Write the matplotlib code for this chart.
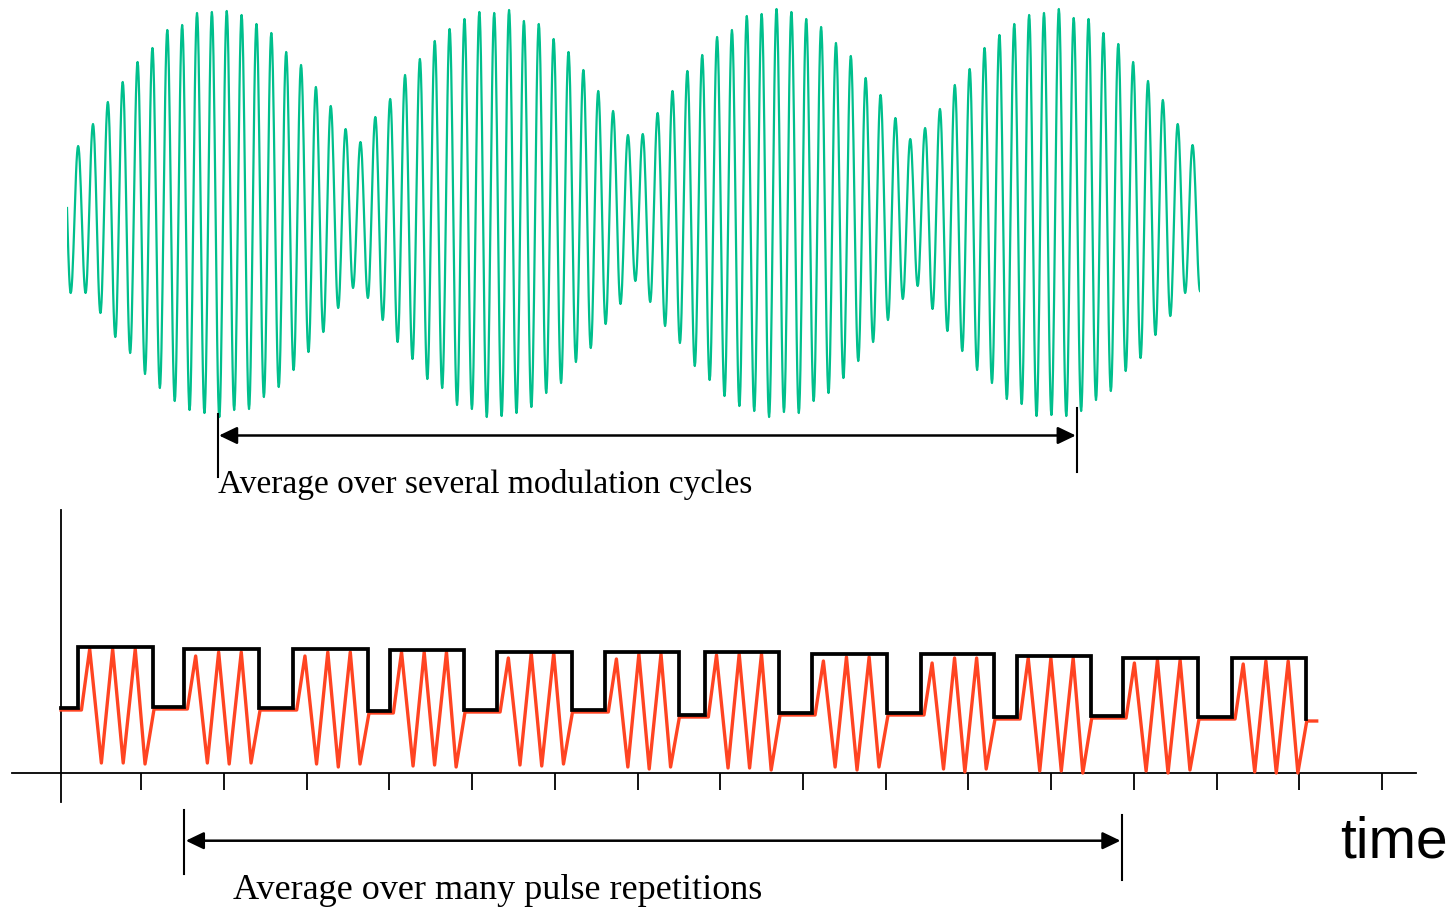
import numpy as np
import matplotlib
matplotlib.use("Agg")
import matplotlib.pyplot as plt

# ---------------- data ----------------
# Top: amplitude-modulated carrier, signal extremes (arbitrary units, 0 = centre)
carrier_peaks = [65, 87, 109, 129, 149, 163, 181, 186, 198, 199, 200, 196, 187, 178, 159, 146,
                 124, 105, 82, 69, 94, 112, 136, 152, 170, 182, 192, 199, 198, 201, 190, 187,
                 172, 159, 141, 120, 100, 76, 77, 98, 120, 140, 156, 174, 181, 195, 197, 202,
                 199, 192, 184, 168, 155, 133, 116, 93, 72, 83, 102, 126, 142, 163, 176, 187,
                 196, 198, 202, 193, 192, 178, 167, 149, 130, 111, 87, 66]
carrier_troughs = [-82, -82, -102, -126, -142, -163, -177, -190, -199, -202, -206, -199, -198,
                   -186, -176, -159, -141, -121, -97, -77, -87, -109, -131, -148, -168, -177,
                   -194, -198, -206, -205, -202, -196, -182, -172, -151, -137, -113, -93, -70,
                   -91, -115, -132, -155, -169, -185, -195, -200, -206, -201, -202, -190, -182,
                   -167, -150, -131, -109, -88, -75, -98, -120, -140, -159, -172, -188, -193,
                   -205, -204, -205, -200, -189, -180, -160, -147, -124, -105, -82]
carrier_start_value = 3
carrier_end_value = -80

# Bottom: pulse train (time in tick units, level in arbitrary units, 0 = time axis)
time_start = 0.03
pulse_start = [0.235, 1.516, 2.838, 4.007, 5.297, 6.606, 7.815, 9.105, 10.423, 11.584,
               12.865, 14.183]
pulse_end = [1.145, 2.427, 3.744, 4.905, 6.204, 7.497, 8.714, 10.019, 11.313, 12.482,
             13.779, 15.082]
pulse_high = [126, 124, 124, 123, 121, 121, 121, 119, 119, 117, 115, 115]
level_before = 65
level_after = [66, 65, 62, 63, 63, 58, 60, 60, 56, 57, 56, 54]

# red oscillation inside each pulse: three peaks and three troughs per pulse
red_peaks = [[124, 124, 124], [117, 121, 121], [117, 121, 121], [121, 121, 121],
             [115, 120, 120], [114, 119, 119], [118, 119, 119], [112, 116, 116],
             [110, 115, 115], [115, 115, 115], [110, 113, 113], [109, 112, 112]]
red_troughs = [[10, 10, 9], [10, 9, 10], [9, 6, 9], [7, 8, 6], [8, 7, 9], [6, 4, 6],
               [5, 5, 3], [6, 3, 6], [4, 1, 4], [2, 2, 0], [2, 0, 3], [1, 0, 0]]
red_tail_end = 15.211

time_ticks = list(range(1, 17))

label_top = "Average over several modulation cycles"
label_bottom = "Average over many pulse repetitions"
label_time = "time"

# ---------------- style ----------------
W, H = 1455, 915
TEAL = "#00BF8C"
RED = "#FF4422"
SERIF = ["Liberation Serif", "DejaVu Serif"]
SANS = ["Liberation Sans", "DejaVu Sans"]

fig = plt.figure(figsize=(W / 100, H / 100), dpi=100)


def px_axes(x0, y0, x1, y1):
    return fig.add_axes([x0 / W, 1 - y1 / H, (x1 - x0) / W, (y1 - y0) / H])


# ---------------- top: modulated carrier ----------------
ax_top = px_axes(67, 0, 1200, 430)
n = len(carrier_peaks)
t_ext = [0.0]
v_ext = [carrier_start_value]
for k in range(n):
    t_ext += [k + 0.25, k + 0.75]
    v_ext += [carrier_troughs[k], carrier_peaks[k]]
t_ext.append(n + 0.25)
v_ext.append(carrier_end_value)

ts, vs = [], []
for i in range(len(t_ext) - 1):
    s = np.linspace(0, 1, 14, endpoint=False)
    if i == 0:
        shape = np.sin(np.pi / 2 * s)
    else:
        shape = (1 - np.cos(np.pi * s)) / 2
    ts.append(t_ext[i] + (t_ext[i + 1] - t_ext[i]) * s)
    vs.append(v_ext[i] + (v_ext[i + 1] - v_ext[i]) * shape)
ts.append([t_ext[-1]])
vs.append([v_ext[-1]])
ax_top.plot(np.concatenate(ts), np.concatenate(vs), color=TEAL, lw=1.6)
ax_top.set_xlim(0, n + 0.25)
ax_top.set_ylim(-219, 211)
ax_top.axis("off")

# ---------------- bottom: pulse train ----------------
ax_bot = px_axes(12, 510, 1416, 802)
px_per_unit = 82.71
origin_px = 58.6
ax_bot.set_xlim((12 - origin_px) / px_per_unit, (1416 - origin_px) / px_per_unit)
ax_bot.set_ylim(-29, 263)
for side in ("top", "right"):
    ax_bot.spines[side].set_visible(False)
ax_bot.spines["left"].set_position(("data", time_start))
ax_bot.spines["bottom"].set_position(("data", 0))
ax_bot.spines["left"].set_linewidth(1.3)
ax_bot.spines["bottom"].set_linewidth(1.3)
ax_bot.set_xticks(time_ticks)
ax_bot.set_xticklabels([])
ax_bot.set_yticks([])
ax_bot.tick_params(axis="x", direction="out", length=12, width=1.3, color="black")
ax_bot.patch.set_alpha(0)

# black square wave
bx, by = [time_start], [level_before]
prev = level_before
for s0, e0, hi, lo in zip(pulse_start, pulse_end, pulse_high, level_after):
    bx += [s0, s0, e0, e0]
    by += [prev, hi, hi, lo]
    prev = lo

# red oscillation
frac = [0.045, 0.155, 0.31, 0.46, 0.60, 0.76, 0.89, 1.01]
red_off = -2
rx, ry = [time_start], [level_before + red_off]
prev = level_before
for i, (s0, e0) in enumerate(zip(pulse_start, pulse_end)):
    w = e0 - s0
    vals = [prev + red_off, red_peaks[i][0], red_troughs[i][0], red_peaks[i][1],
            red_troughs[i][1], red_peaks[i][2], red_troughs[i][2], level_after[i] + red_off]
    for f, v in zip(frac, vals):
        rx.append(s0 + f * w)
        ry.append(v)
    prev = level_after[i]
rx.append(red_tail_end)
ry.append(level_after[-1] + red_off)

ax_bot.plot(rx, ry, color=RED, lw=2.4, zorder=3, clip_on=False)
ax_bot.plot(bx, by, color="black", lw=2.7, zorder=4, clip_on=False,
            solid_joinstyle="miter")

# ---------------- annotations (overlay, pixel coordinates) ----------------
ov = fig.add_axes([0, 0, 1, 1])
ov.set_xlim(0, W)
ov.set_ylim(H, 0)
ov.axis("off")
ov.patch.set_alpha(0)

arrow_style = "<|-|>,head_length=0.75,head_width=0.36"


def span(x0, x1, y, bar0, bar1):
    ov.plot([x0, x0], bar0, color="black", lw=1.5)
    ov.plot([x1, x1], bar1, color="black", lw=1.5)
    ov.annotate("", xy=(x0 + 1.5, y), xytext=(x1 - 1.5, y),
                arrowprops=dict(arrowstyle=arrow_style, color="black", lw=1.8,
                                mutation_scale=14.5, shrinkA=0, shrinkB=0))


span(217.5, 1077.3, 435.5, (414, 477), (408, 472))
span(184.3, 1122, 840.7, (810, 874), (815, 880))

ov.text(218, 493.5, label_top, family=SERIF, fontsize=24.1, va="baseline", ha="left")
ov.text(233, 899, label_bottom, family=SERIF, fontsize=26.0, va="baseline", ha="left")
ov.text(1340, 857, label_time, family=SANS, fontsize=41, va="baseline", ha="left")

fig.savefig("out.png", dpi=100)
